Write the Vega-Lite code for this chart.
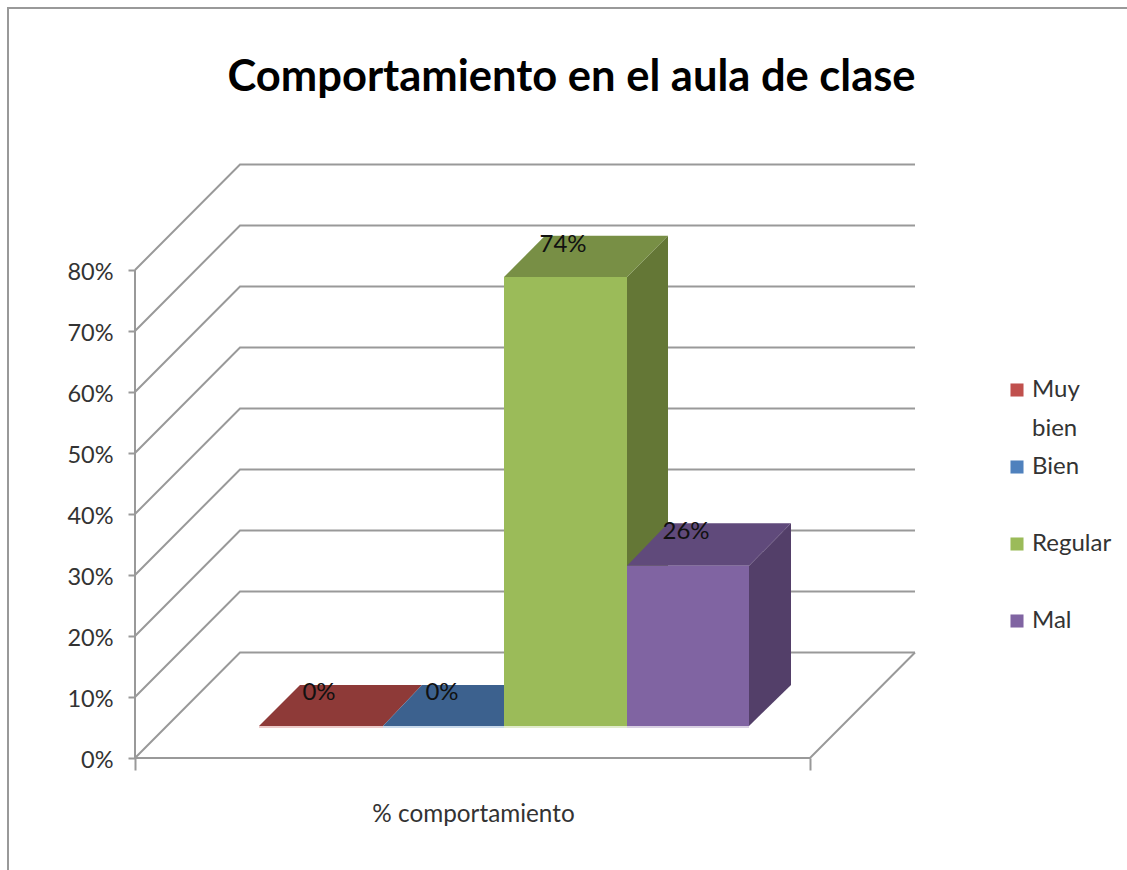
{
"$schema":"https://vega.github.io/schema/vega-lite/v6.json",
"width":1127,"height":870,"autosize":"none","padding":0,
"background":"white",
"config":{"view":{"stroke":null},"font":"Lato"},
"title":{"text":"Comportamiento en el aula de clase","font":"Lato","fontSize":43.5,"fontWeight":"bold","color":"#000000","anchor":"middle","dx":8,"offset":-143,"baseline":"bottom"},
"datasets":{
"lineas":[
{"linea":"marco","x":8,"y":-18.36},{"linea":"marco","x":8,"y":122.95},{"linea":"marco","x":1127,"y":122.95},
{"linea":"g0","x":135,"y":0},{"linea":"g0","x":240,"y":17.3},{"linea":"g0","x":915,"y":17.3},
{"linea":"g10","x":135,"y":10},{"linea":"g10","x":240,"y":27.3},{"linea":"g10","x":915,"y":27.3},
{"linea":"g20","x":135,"y":20},{"linea":"g20","x":240,"y":37.3},{"linea":"g20","x":915,"y":37.3},
{"linea":"g30","x":135,"y":30},{"linea":"g30","x":240,"y":47.3},{"linea":"g30","x":915,"y":47.3},
{"linea":"g40","x":135,"y":40},{"linea":"g40","x":240,"y":57.3},{"linea":"g40","x":915,"y":57.3},
{"linea":"g50","x":135,"y":50},{"linea":"g50","x":240,"y":67.3},{"linea":"g50","x":915,"y":67.3},
{"linea":"g60","x":135,"y":60},{"linea":"g60","x":240,"y":77.3},{"linea":"g60","x":915,"y":77.3},
{"linea":"g70","x":135,"y":70},{"linea":"g70","x":240,"y":87.3},{"linea":"g70","x":915,"y":87.3},
{"linea":"g80","x":135,"y":80},{"linea":"g80","x":240,"y":97.3},{"linea":"g80","x":915,"y":97.3},
{"linea":"piso","x":135,"y":0},{"linea":"piso","x":810,"y":0},{"linea":"piso","x":915,"y":17.3},
{"linea":"eje","x":135,"y":0},{"linea":"eje","x":135.01,"y":80}
],
"caras":[
{"cara":"Regular lateral","x":627,"y":78.85,"y2":5.25},{"cara":"Regular lateral","x":668,"y":85.6,"y2":11.97},
{"cara":"Mal lateral","x":749,"y":31.5,"y2":5.25},{"cara":"Mal lateral","x":791,"y":38.5,"y2":11.97},
{"cara":"Muy bien superior","x":259,"y":5.25,"y2":5.25},{"cara":"Muy bien superior","x":300,"y":11.97,"y2":5.25},{"cara":"Muy bien superior","x":383,"y":11.97,"y2":5.25},{"cara":"Muy bien superior","x":422,"y":11.97,"y2":11.97},
{"cara":"Bien superior","x":383,"y":5.25,"y2":5.25},{"cara":"Bien superior","x":422,"y":11.97,"y2":5.25},{"cara":"Bien superior","x":504,"y":11.97,"y2":5.25},{"cara":"Bien superior","x":545,"y":11.97,"y2":11.97},
{"cara":"Regular superior","x":504,"y":78.85,"y2":78.85},{"cara":"Regular superior","x":545,"y":85.6,"y2":78.85},{"cara":"Regular superior","x":627,"y":85.6,"y2":78.85},{"cara":"Regular superior","x":668,"y":85.6,"y2":85.6},
{"cara":"Mal superior","x":627,"y":31.5,"y2":31.5},{"cara":"Mal superior","x":668,"y":38.5,"y2":31.5},{"cara":"Mal superior","x":749,"y":38.5,"y2":31.5},{"cara":"Mal superior","x":791,"y":38.5,"y2":38.5}
],
"barras":[
{"serie":"Muy bien","x":259,"x2":383,"y":5.25,"y2":5.25,"base":4.9,"valor":0,"lx":319,"ly":10.6},
{"serie":"Bien","x":383,"x2":504,"y":5.25,"y2":5.25,"base":4.9,"valor":0,"lx":442,"ly":10.6},
{"serie":"Regular","x":504,"x2":627,"y":78.85,"y2":5.25,"base":4.9,"valor":0.74,"lx":563,"ly":84.1},
{"serie":"Mal","x":627,"x2":749,"y":31.5,"y2":5.25,"base":4.9,"valor":0.26,"lx":686,"ly":37}
]
},
"encoding":{
"x":{"field":"x","type":"quantitative","scale":{"domain":[0,1127],"nice":false,"zero":false},
"axis":{"orient":"bottom","offset":-112,"values":[135,810],"labels":false,"domain":false,"grid":false,"tickSize":12,"tickWidth":2,"tickColor":"#999999","title":"% comportamiento","titleFont":"Lato","titleFontSize":24.3,"titleFontWeight":"normal","titleColor":"#333333","titleX":473,"titleY":56,"titleBaseline":"middle"}},
"y":{"field":"y","type":"quantitative","stack":null,"scale":{"domain":[-18.36,124.262],"nice":false,"zero":false},
"axis":{"orient":"left","offset":-135,"values":[0,10,20,30,40,50,60,70,80],"labelExpr":"datum.value + '%'","domain":false,"grid":false,"tickSize":7,"tickWidth":2,"tickColor":"#999999","labelPadding":15,"labelOffset":2,"labelFont":"Lato","labelFontSize":23.5,"labelColor":"#333333","title":null}}
},
"layer":[
{"data":{"name":"lineas"},"mark":{"type":"line","stroke":"#999999","strokeWidth":2,"interpolate":"linear"},"encoding":{"detail":{"field":"linea"}}},
{"data":{"name":"caras"},"mark":{"type":"area","interpolate":"linear"},"encoding":{
"y2":{"field":"y2"},
"detail":{"field":"cara"},
"fill":{"field":"cara","type":"nominal","legend":null,"scale":{"domain":["Regular lateral","Mal lateral","Muy bien superior","Bien superior","Regular superior","Mal superior"],"range":["#647736","#533F69","#8E3A38","#3C618E","#788F45","#604A7B"]}}}},
{"data":{"name":"barras"},"mark":{"type":"rect"},"encoding":{
"x2":{"field":"x2"},"y2":{"field":"y2"},
"color":{"field":"serie","type":"nominal","scale":{"domain":["Muy bien","Bien","Regular","Mal"],"range":["#C0504D","#4F81BD","#9BBB59","#8064A2"]},
"legend":{"orient":"none","legendX":1005,"legendY":378,"title":null,"symbolType":"square","symbolSize":170,"labelFont":"Lato","labelFontSize":24,"labelColor":"#333333","labelLimit":120,"labelOffset":3,"rowPadding":14,"labelExpr":"datum.label == 'Muy bien' ? ['Muy','bien'] : [datum.label,'']","encode":{"labels":{"update":{"lineHeight":{"value":38.5}}}}}}}},
{"data":{"name":"barras"},"mark":{"type":"rect"},"encoding":{
"x2":{"field":"x2"},"y":{"field":"y2","type":"quantitative"},"y2":{"field":"base"},
"fill":{"field":"serie","type":"nominal","legend":null,"scale":{"domain":["Muy bien","Bien","Regular","Mal"],"range":["#ECCBCA","#CADAEB","#E1EBCD","#D9D0E3"]}}}},
{"data":{"name":"barras"},"mark":{"type":"text","font":"Lato","fontSize":24,"color":"#111111","baseline":"middle","align":"center"},"encoding":{
"x":{"field":"lx","type":"quantitative"},"y":{"field":"ly","type":"quantitative"},"text":{"field":"valor","type":"quantitative","format":".0%"}}}
],
"resolve":{"scale":{"fill":"independent"}}
}
